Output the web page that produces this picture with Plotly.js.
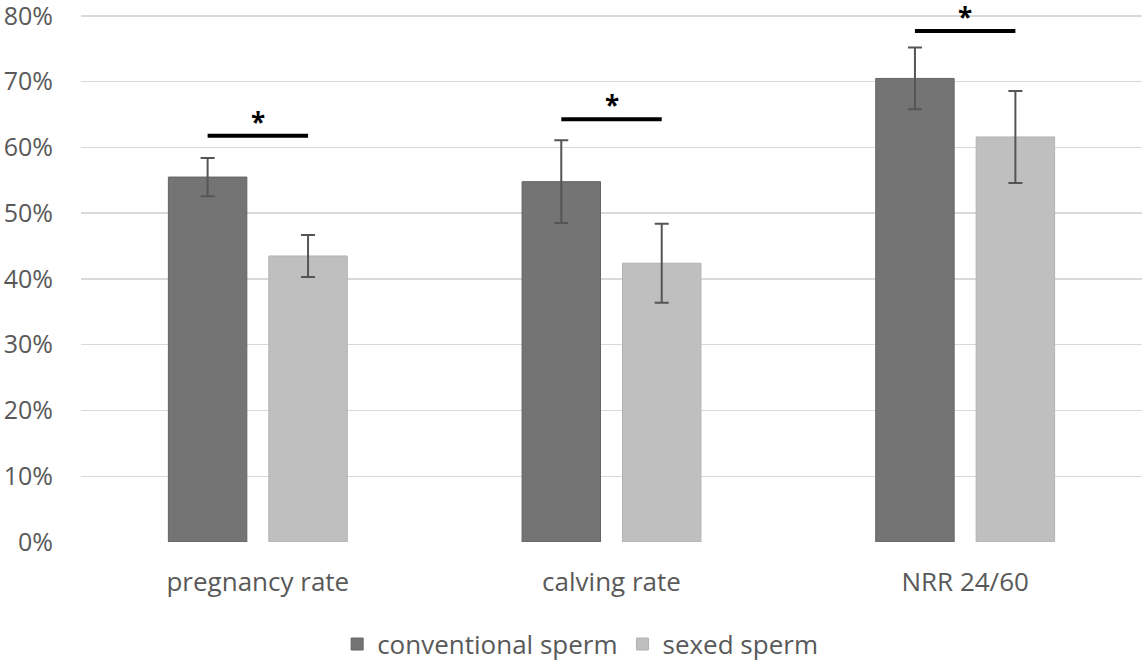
<!DOCTYPE html>
<html>
<head>
<meta charset="utf-8">
<script src="https://cdn.plot.ly/plotly-3.0.1.min.js"></script>
<style>html,body{margin:0;padding:0;background:#fff;}#chart{width:1142px;height:662px;}</style>
</head>
<body>
<div id="chart"></div>
<script>
const categories = ["pregnancy rate", "calving rate", "NRR 24/60"];
const conventional = [55.5, 54.8, 70.5];
const conventionalErr = [2.9, 6.3, 4.7];
const sexed = [43.5, 42.4, 61.6];
const sexedErr = [3.2, 6.0, 7.0];
const sigLevel = [61.8, 64.3, 77.7];
const sigLabel = ["*", "*", "*"];
const yTicks = [0, 10, 20, 30, 40, 50, 60, 70, 80];
const yTickText = yTicks.map(v => v + "%");

const bargap = 0.432, bargroupgap = 0.219;
const half = (1 - bargap) / 4; // offset of bar centers from category center

const font = "Open Sans, sans-serif";
const txt = "#595959";
const traces = [
  {type: "bar", name: "conventional sperm", x: categories, y: conventional,
   marker: {color: "#747474", line: {color: "#646464", width: 1}},
   error_y: {type: "data", array: conventionalErr, visible: true, color: "#555555", thickness: 2, width: 7}},
  {type: "bar", name: "sexed sperm", x: categories, y: sexed,
   marker: {color: "#bfbfbf", line: {color: "#b2b2b2", width: 1}},
   error_y: {type: "data", array: sexedErr, visible: true, color: "#555555", thickness: 2, width: 7}}
];

const shapes = sigLevel.map((v, i) => ({
  type: "line", xref: "x", yref: "y", x0: i - half, x1: i + half, y0: v, y1: v,
  line: {color: "#000000", width: 4}
}));
const annotations = sigLevel.map((v, i) => ({
  xref: "x", yref: "y", x: i, y: v, text: sigLabel[i], showarrow: false,
  yanchor: "middle", yshift: 14, font: {family: font, size: 26, color: "#000", weight: "bold"}
}));

const layout = {
  width: 1142, height: 662,
  margin: {l: 81, r: 0, t: 14, b: 120},
  paper_bgcolor: "#ffffff", plot_bgcolor: "#ffffff",
  barmode: "group", bargap: bargap, bargroupgap: bargroupgap,
  font: {family: font, color: txt, size: 26},
  xaxis: {type: "category", showgrid: false, showline: false, zeroline: false,
          ticks: "outside", ticklen: 17, tickcolor: "rgba(0,0,0,0)",
          tickfont: {family: font, size: 26, color: txt}},
  yaxis: {range: [0, 80.3], tickvals: yTicks, ticktext: yTickText, showgrid: true,
          gridcolor: "#d9d9d9", gridwidth: 1.5, zeroline: false, showline: false,
          ticks: "outside", ticklen: 22, tickcolor: "rgba(0,0,0,0)",
          ticklabeloverflow: "allow",
          tickfont: {family: font, size: 25, color: txt}},
  showlegend: true,
  legend: {orientation: "h", xref: "container", yref: "container", x: 0.508, xanchor: "center",
           y: 0.027, yanchor: "middle",
           font: {family: font, size: 26, color: txt}},
  shapes: shapes, annotations: annotations
};
Plotly.newPlot("chart", traces, layout, {displayModeBar: false, staticPlot: true});
</script>
</body>
</html>
